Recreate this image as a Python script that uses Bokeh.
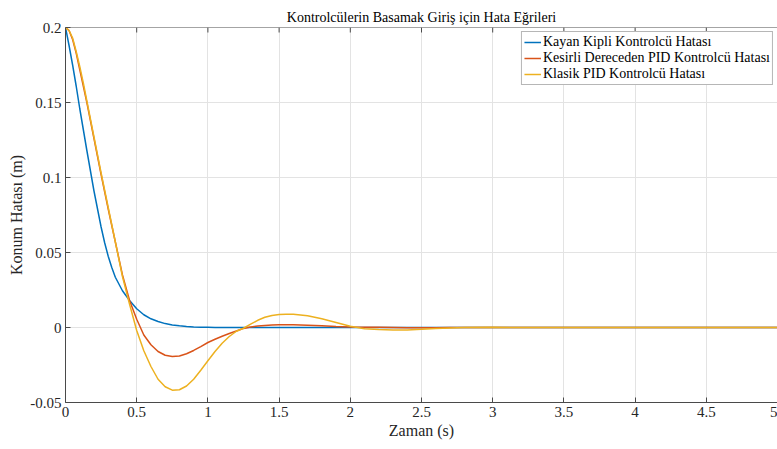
import math
from bokeh.plotting import figure
from bokeh.models import LinearAxis, Range1d, FixedTicker, Legend, LegendItem
from bokeh.embed import file_html
from bokeh.resources import INLINE

# ---- data ----
t = [0, 0.025, 0.05, 0.075, 0.1, 0.125, 0.15, 0.2, 0.25, 0.275, 0.3, 0.325,
     0.35, 0.4, 0.45,
     0.5, 0.55, 0.6, 0.65, 0.7, 0.75, 0.8, 0.85, 0.9, 0.95, 1.0, 1.05, 1.1,
     1.15, 1.2, 1.25, 1.3, 1.35, 1.4, 1.45, 1.5, 1.55, 1.6, 1.7, 1.8, 1.9,
     2.0, 2.1, 2.2, 2.3, 2.4, 2.5, 2.6, 2.7, 2.8, 3.0, 3.5, 4.0, 4.5, 5.0]

kayan_kipli = [0.200, 0.188, 0.175, 0.161, 0.146, 0.132, 0.118, 0.091, 0.067,
               0.0565, 0.0475, 0.040, 0.0335, 0.0245, 0.0180, 0.0125, 0.0085,
               0.0058, 0.0040, 0.0026, 0.0017, 0.0011, 0.0007, 0.0004, 0.0002,
               0.0001, 0, 0, 0, 0, 0, 0, 0, 0, 0, 0, 0, 0, 0, 0, 0, 0, 0, 0,
               0, 0, 0, 0, 0, 0, 0, 0, 0, 0, 0]

kesirli_pid = [0.200, 0.198, 0.192, 0.183, 0.172, 0.161, 0.150, 0.126, 0.102,
               0.0905, 0.079, 0.068, 0.057, 0.035, 0.018, 0.0055, -0.0050,
               -0.0115, -0.0160, -0.0185, -0.0193, -0.0190, -0.0175, -0.0153,
               -0.0127, -0.0100, -0.0078, -0.0058, -0.0040, -0.0023, -0.0006,
               0.0004, 0.0010, 0.0014, 0.0016, 0.0018, 0.0018, 0.0018, 0.0015,
               0.0011, 0.0007, 0.0004, 0.0002, 0.0001, 0.0, -0.0001, -0.0001,
               -0.0001, 0.0, 0.0, 0, 0, 0, 0, 0]

klasik_pid = [0.200, 0.198, 0.193, 0.184, 0.174, 0.163, 0.151, 0.127, 0.103,
              0.0915, 0.080, 0.0685, 0.057, 0.034, 0.0155, -0.002, -0.0155,
              -0.0260, -0.0345, -0.0395, -0.0418, -0.0415, -0.0390, -0.0345,
              -0.0285, -0.0222, -0.0160, -0.0105, -0.0060, -0.0025, -0.0005,
              0.0022, 0.0048, 0.0068, 0.0080, 0.0087, 0.0089, 0.0088, 0.0078,
              0.0058, 0.0033, 0.0008, -0.0008, -0.0014, -0.0017, -0.0016,
              -0.0012, -0.0007, -0.0003, 0.0, 0.0001, 0, 0, 0, 0]

series_names = ["Kayan Kipli Kontrolcü Hatası",
                "Kesirli Dereceden PID Kontrolcü Hatası",
                "Klasik PID Kontrolcü Hatası"]
series_colors = ["#0072BD", "#D95319", "#EDB120"]

x_ticks = [0, 0.5, 1, 1.5, 2, 2.5, 3, 3.5, 4, 4.5, 5]
x_tick_labels = ["0", "0.5", "1", "1.5", "2", "2.5", "3", "3.5", "4", "4.5", "5"]
y_ticks = [-0.05, 0, 0.05, 0.1, 0.15, 0.2]
y_tick_labels = ["-0.05", "0", "0.05", "0.1", "0.15", "0.2"]

title_text = "Kontrolcülerin Basamak Giriş için Hata Eğrileri"
x_label = "Zaman (s)"
y_label = "Konum Hatası (m)"

X_MIN, X_MAX = 0, 5
Y_MIN, Y_MAX = -0.05, 0.2

FONT = "Liberation Serif"
AXIS_COLOR = "#4a4a4a"
TEXT_COLOR = "#262626"

p = figure(width=777, height=449, output_backend="svg", toolbar_location=None,
           x_range=Range1d(X_MIN, X_MAX), y_range=Range1d(Y_MIN, Y_MAX),
           min_border_left=65, min_border_right=0, min_border_top=27,
           min_border_bottom=47, x_axis_location=None, y_axis_location=None)
p.outline_line_color = None
p.background_fill_color = "white"
p.border_fill_color = "white"

p.title.text = title_text
p.title.align = "center"
p.title.text_font = FONT
p.title.text_font_size = "14px"
p.title.text_font_style = "normal"
p.title.text_color = "black"
p.title.offset = 0
p.title.standoff = 6


def style_axis(ax, ticks, labels):
    ax.ticker = FixedTicker(ticks=ticks)
    ax.major_label_overrides = {tk: lb for tk, lb in zip(ticks, labels)}
    ax.major_tick_in = 5
    ax.major_tick_out = 0
    ax.minor_tick_line_color = None
    ax.axis_line_color = AXIS_COLOR
    ax.major_tick_line_color = AXIS_COLOR
    ax.axis_line_width = 1
    ax.major_label_text_font = FONT
    ax.major_label_text_color = TEXT_COLOR
    ax.major_label_text_font_size = "15px"
    ax.major_label_standoff = 4
    ax.axis_label_text_font = FONT
    ax.axis_label_text_font_size = "16px"
    ax.axis_label_text_font_style = "normal"
    ax.axis_label_text_color = TEXT_COLOR
    ax.axis_label_standoff = 2


xb = LinearAxis()
style_axis(xb, x_ticks, x_tick_labels)
xb.axis_label = x_label
p.add_layout(xb, "below")

yl = LinearAxis()
style_axis(yl, y_ticks, y_tick_labels)
yl.axis_label = y_label
p.add_layout(yl, "left")

# top box edge with inward tick marks
p.line([X_MIN, X_MAX], [Y_MAX, Y_MAX], line_color=AXIS_COLOR, line_width=1)
p.ray(x=x_ticks, y=[Y_MAX] * len(x_ticks), length=5, length_units="screen",
      angle=-math.pi / 2, line_color=AXIS_COLOR, line_width=1)

p.xgrid.ticker = FixedTicker(ticks=x_ticks)
p.ygrid.ticker = FixedTicker(ticks=y_ticks)
for g in (p.xgrid, p.ygrid):
    g.grid_line_color = "#e3e3e3"
    g.grid_line_width = 1

items = []
for ys, name, col in zip([kayan_kipli, kesirli_pid, klasik_pid], series_names, series_colors):
    r = p.line(t, ys, line_color=col, line_width=1.5)
    items.append(LegendItem(label=name, renderers=[r]))

legend = Legend(items=items, location="top_right")
legend.label_text_font = FONT
legend.label_text_font_size = "14px"
legend.label_text_color = "black"
legend.glyph_width = 17
legend.glyph_height = 16
legend.label_height = 16
legend.label_standoff = 2
legend.spacing = 0
legend.padding = 2
legend.margin = 4
legend.border_line_color = "#6e6e6e"
legend.border_line_width = 1
legend.background_fill_color = "white"
legend.background_fill_alpha = 1
p.add_layout(legend, "center")

open("out.html", "w").write(file_html(p, INLINE))
